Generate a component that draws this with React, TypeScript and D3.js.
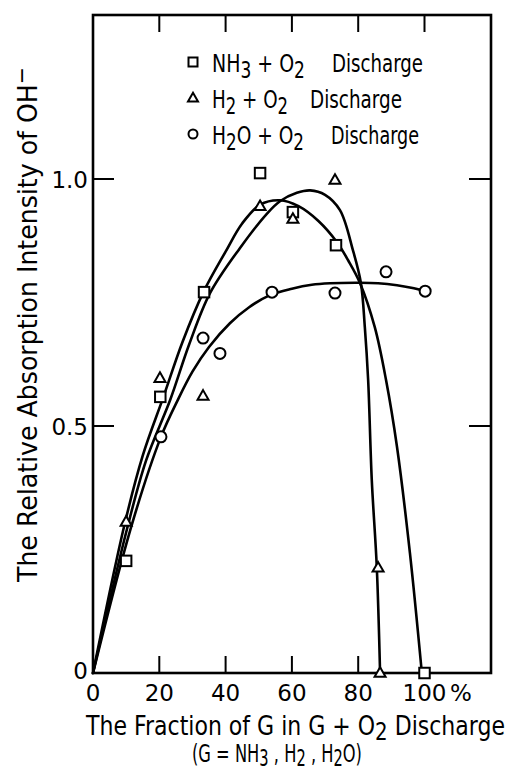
import React, { useLayoutEffect, useRef, useState } from "react";
import * as d3 from "d3";

// ---- data ----
const nh3X = [10, 20.3, 33.5, 50.4, 60.3, 73.3, 100];
const nh3Y = [0.227, 0.559, 0.771, 1.012, 0.933, 0.866, 0];
const h2X = [10, 20.2, 33.2, 50.4, 60.3, 73, 86, 86.6];
const h2Y = [0.306, 0.597, 0.561, 0.945, 0.919, 0.998, 0.213, 0];
const h2oX = [20.5, 33.2, 38.3, 54, 73, 88.4, 100.2];
const h2oY = [0.478, 0.678, 0.647, 0.771, 0.769, 0.812, 0.773];

// fitted curves drawn by hand in the original
const nh3CurveX = [0, 9.5, 15, 21.3, 27, 33.3, 40, 45, 50.4, 56.4, 62, 68, 73.6, 77, 80.5, 85, 88.4, 91.7, 95.6, 99.2];
const nh3CurveY = [0, 0.3, 0.44, 0.56, 0.67, 0.771, 0.853, 0.91, 0.948, 0.957, 0.945, 0.915, 0.872, 0.835, 0.79, 0.7, 0.593, 0.458, 0.243, 0];
const h2CurveX = [0, 10.2, 16, 23.3, 29, 35.3, 44.3, 52.5, 56.4, 61.5, 65.5, 70, 74.5, 78.4, 80.8, 82, 83, 84.1, 85.6, 86.6];
const h2CurveY = [0, 0.29, 0.43, 0.553, 0.665, 0.769, 0.86, 0.93, 0.955, 0.972, 0.977, 0.968, 0.937, 0.856, 0.79, 0.7, 0.593, 0.39, 0.215, 0];
const h2oCurveX = [0, 11.7, 20.5, 25.6, 30, 35, 41.3, 47, 53.4, 60, 66, 71.5, 80.5, 86, 91.7, 96, 100.2];
const h2oCurveY = [0, 0.3, 0.478, 0.553, 0.61, 0.66, 0.708, 0.74, 0.765, 0.778, 0.786, 0.789, 0.79, 0.789, 0.785, 0.78, 0.773];

const xTicks = [0, 20, 40, 60, 80, 100];
const xTickLabels = ["0", "20", "40", "60", "80", "100"];
const yTicks = [0, 0.5, 1.0];
const yTickLabels = ["0", "0.5", "1.0"];

const FONT = "'DejaVu Sans', sans-serif";

type Seg = [string, boolean];

function rich(segs: Seg[], shift = 6) {
  let lowered = false;
  return segs.map(([t, isSub], i) => {
    let dy = 0;
    if (isSub && !lowered) {
      dy = shift;
      lowered = true;
    } else if (!isSub && lowered) {
      dy = -shift;
      lowered = false;
    }
    return (
      <tspan key={i} dy={dy || undefined} fontSize={isSub ? "0.9em" : undefined}>
        {t}
      </tspan>
    );
  });
}

// text horizontally squeezed to a target width (the original uses narrow lettering)
function FitText(props: {
  x: number;
  y: number;
  width: number;
  fontSize: number;
  rotate?: boolean;
  children: React.ReactNode;
}) {
  const ref = useRef<SVGTextElement>(null);
  const [sx, setSx] = useState(0.8);
  useLayoutEffect(() => {
    if (ref.current) {
      const w = ref.current.getBBox().width;
      if (w > 0) setSx(props.width / w);
    }
  }, [props.width]);
  return (
    <g transform={`translate(${props.x},${props.y})${props.rotate ? " rotate(-90)" : ""} scale(${sx},1)`}>
      <text ref={ref} x={0} y={0} fontSize={props.fontSize} fill="#000">
        {props.children}
      </text>
    </g>
  );
}

export default function App() {
  const left = 93, right = 491, top = 15, bottom = 673;
  const x = d3.scaleLinear().domain([0, 120]).range([left, 490.8]);
  const y = d3.scaleLinear().domain([0, 1]).range([bottom, 179]);

  const line = d3
    .line<[number, number]>()
    .x((d) => x(d[0]))
    .y((d) => y(d[1]))
    .curve(d3.curveCatmullRom.alpha(0.5));

  const zip = (a: number[], b: number[]) => a.map((v, i) => [v, b[i]] as [number, number]);

  const sq = (cx: number, cy: number, s: number, k: string) => (
    <rect key={k} x={cx - s / 2} y={cy - s / 2} width={s} height={s} fill="#fff" stroke="#000" strokeWidth={2} />
  );
  const tri = (cx: number, cy: number, s: number, k: string) => {
    const h = s * 0.87;
    return (
      <path
        key={k}
        d={`M${cx},${cy - h * 0.6}L${cx + s / 2},${cy + h * 0.4}L${cx - s / 2},${cy + h * 0.4}Z`}
        fill="#fff"
        stroke="#000"
        strokeWidth={2}
      />
    );
  };
  const circ = (cx: number, cy: number, r: number, k: string) => (
    <circle key={k} cx={cx} cy={cy} r={r} fill="#fff" stroke="#000" strokeWidth={2} />
  );

  return (
    <svg
      width={513}
      height={772}
      style={{ position: "absolute", left: 0, top: 0, background: "#fff" }}
      fontFamily={FONT}
    >
      {/* curves */}
      <g fill="none" stroke="#000" strokeWidth={2.6} strokeLinecap="round">
        <path d={line(zip(nh3CurveX, nh3CurveY)) || ""} />
        <path d={line(zip(h2CurveX, h2CurveY)) || ""} />
        <path d={line(zip(h2oCurveX, h2oCurveY)) || ""} />
      </g>

      {/* frame */}
      <rect x={left} y={top} width={right - left} height={bottom - top} fill="none" stroke="#000" strokeWidth={2.6} />

      {/* ticks */}
      <g stroke="#000" strokeWidth={2}>
        {xTicks.filter((t) => t > 0 && t < 100).map((t) => (
          <line key={"bx" + t} x1={x(t)} x2={x(t)} y1={bottom} y2={bottom - 17} />
        ))}
        {xTicks.filter((t) => t > 0).map((t) => (
          <line key={"tx" + t} x1={x(t)} x2={x(t)} y1={top} y2={top + 17} />
        ))}
        {yTicks.filter((t) => t > 0).map((t) => (
          <line key={"ly" + t} x1={left} x2={left + 21} y1={y(t)} y2={y(t)} />
        ))}
        {yTicks.filter((t) => t > 0).map((t) => (
          <line key={"ry" + t} x1={right} x2={right - 22} y1={y(t)} y2={y(t)} />
        ))}
      </g>

      {/* markers */}
      {h2oX.map((v, i) => circ(x(v), y(h2oY[i]), 5.5, "c" + i))}
      {nh3X.map((v, i) => sq(x(v), y(nh3Y[i]), 10.5, "s" + i))}
      {h2X.map((v, i) => tri(x(v), y(h2Y[i]), 11, "t" + i))}

      {/* tick labels */}
      <g fontSize={23} fill="#000">
        {xTicks.map((t, i) => (
          <text key={"xl" + t} x={x(t)} y={701} textAnchor="middle">
            {xTickLabels[i]}
          </text>
        ))}
        <text x={450} y={701}>%</text>
        {yTicks.map((t, i) => (
          <text key={"yl" + t} x={88} y={y(t) + 8.5 - (t === 0 ? 3 : 0)} textAnchor="end">
            {yTickLabels[i]}
          </text>
        ))}
      </g>

      {/* legend */}
      {sq(193, 62, 9, "ls")}
      {tri(193, 98, 10, "lt")}
      {circ(193, 134, 4.5, "lc")}
      <FitText x={212} y={72} width={93} fontSize={25}>
        {rich([["NH", false], ["3", true], [" + O", false], ["2", true]])}
      </FitText>
      <FitText x={332} y={72} width={91} fontSize={25}>Discharge</FitText>
      <FitText x={212} y={108} width={76} fontSize={25}>
        {rich([["H", false], ["2", true], [" + O", false], ["2", true]])}
      </FitText>
      <FitText x={310} y={108} width={92} fontSize={25}>Discharge</FitText>
      <FitText x={212} y={144} width={92} fontSize={25}>
        {rich([["H", false], ["2", true], ["O + O", false], ["2", true]])}
      </FitText>
      <FitText x={331} y={144} width={88} fontSize={25}>Discharge</FitText>

      {/* x title */}
      <FitText x={86} y={735} width={420} fontSize={27}>
        {rich([["The Fraction of G in G + O", false], ["2", true], [" Discharge", false]], 5)}
      </FitText>
      <FitText x={192} y={762} width={170} fontSize={25}>
        {rich([["(G = NH", false], ["3", true], [" , H", false], ["2", true], [" , H", false], ["2", true], ["O)", false]], 4)}
      </FitText>

      {/* y title */}
      <FitText x={37} y={582} width={516} fontSize={27} rotate>
        <tspan>The Relative Absorption Intensity of OH</tspan>
        <tspan dy={-8} fontSize={22}>−</tspan>
      </FitText>
    </svg>
  );
}
